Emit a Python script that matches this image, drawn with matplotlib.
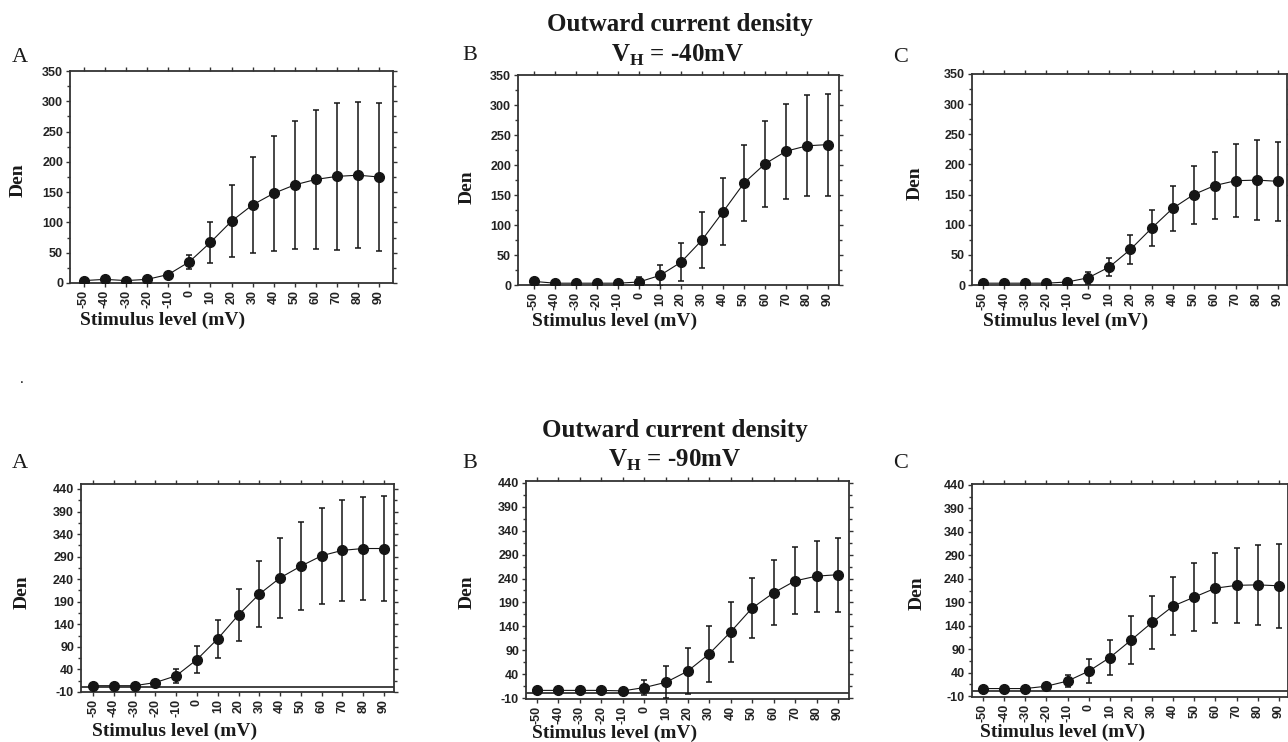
import matplotlib.pyplot as plt
from matplotlib.ticker import FixedLocator

plt.rcParams['font.family'] = ['Liberation Sans', 'DejaVu Sans']
plt.rcParams['axes.unicode_minus'] = False
plt.rcParams['mathtext.fontset'] = 'custom'
plt.rcParams['mathtext.rm'] = 'Liberation Serif:bold'
plt.rcParams['mathtext.bf'] = 'Liberation Serif:bold'

W, H = 1288, 742

# stimulus levels (mV)
stim = [-50, -40, -30, -20, -10, 0, 10, 20, 30, 40, 50, 60, 70, 80, 90]

# V_H = -40 mV  (mean density and error)
den40_a = [4, 6, 4, 6, 14, 35, 67, 102, 129, 148, 162, 171, 176, 178, 175]
err40_a = [0, 0, 0, 0, 3, 12, 34, 59, 79, 95, 106, 115, 121, 121, 122]
den40_b = [6, 3, 3, 3, 3, 5, 16, 38, 75, 122, 170, 202, 223, 232, 234]
err40_b = [0, 0, 0, 0, 0, 9, 17, 32, 46, 56, 64, 72, 79, 84, 85]
den40_c = [3, 3, 3, 3, 5, 12, 30, 59, 94, 127, 150, 165, 173, 174, 172]
err40_c = [0, 0, 0, 0, 0, 10, 15, 24, 30, 37, 48, 55, 61, 66, 66]

# V_H = -90 mV
den90_a = [4, 4, 4, 11, 26, 62, 108, 161, 207, 243, 269, 292, 304, 308, 308]
err90_a = [0, 0, 0, 0, 15, 29, 42, 58, 73, 89, 98, 106, 112, 115, 116]
den90_b = [6, 6, 6, 6, 5, 12, 23, 46, 82, 128, 178, 210, 235, 245, 248]
err90_b = [0, 0, 0, 0, 0, 16, 33, 48, 58, 63, 63, 68, 70, 74, 77]
den90_c = [6, 6, 6, 11, 22, 43, 72, 109, 147, 182, 201, 220, 226, 227, 225]
err90_c = [0, 0, 0, 0, 12, 25, 38, 51, 56, 62, 72, 74, 80, 86, 89]

ticks40 = list(range(0, 351, 50))
ticks90 = list(range(-10, 441, 50))

fig = plt.figure(figsize=(W / 100, H / 100), dpi=100)


def fx(x):
    return x / W


def fy(y):
    return 1 - y / H


def panel(box, xlim, ylim, yticks, mean, err, zero_line=False):
    l, t, r, b = box
    ax = fig.add_axes([fx(l), fy(b), (r - l) / W, (b - t) / H])
    if zero_line:
        ax.axhline(0, color='#222222', lw=1.2, zorder=1)
    ax.errorbar(stim, mean, yerr=err, fmt='-o', color='#151515', ms=7,
                lw=0.8, elinewidth=1.1, capsize=2.5, capthick=1.1, zorder=3)
    ax.set_xlim(xlim)
    ax.set_ylim(ylim)
    ax.set_xticks(stim)
    ax.set_xticklabels([str(s) for s in stim], rotation=90)
    ax.yaxis.set_major_locator(FixedLocator(yticks))
    ax.yaxis.set_minor_locator(FixedLocator([v + 25 for v in yticks[:-1]]))
    ax.tick_params(which='both', direction='out', top=True, right=True,
                   labeltop=False, labelright=False, width=1, color='#333333')
    ax.tick_params(which='major', length=3, pad=2, labelsize=9)
    ax.tick_params(which='minor', length=2)
    for lab in ax.get_xticklabels() + ax.get_yticklabels():
        lab.set_fontweight('bold')
        lab.set_color('#222222')
    for sp in ax.spines.values():
        sp.set_linewidth(1.3)
        sp.set_color('#333333')
    return ax


def serif(x, y, s, size, weight='bold', ha='center', rot=0):
    fig.text(fx(x), fy(y), s, fontsize=size, fontweight=weight, ha=ha,
             va='center', rotation=rot, family='Liberation Serif', color='#1a1a1a')


# top row: V_H = -40 mV
panel((70, 71, 393, 283), (-56.6, 96.6), (0, 350), ticks40, den40_a, err40_a)
panel((518, 75, 839, 285), (-57.6, 95.2), (0, 350), ticks40, den40_b, err40_b)
panel((972, 74, 1287, 285), (-55.2, 94.3), (0, 350), ticks40, den40_c, err40_c)

# bottom row: V_H = -90 mV
panel((81, 484, 394, 692), (-55.8, 94.8), (-10, 451), ticks90, den90_a, err90_a, True)
panel((526, 481, 849, 699), (-55.1, 95.1), (-12, 444), ticks90, den90_b, err90_b, True)
panel((972, 484, 1288, 697), (-55.2, 94.3), (-12, 442), ticks90, den90_c, err90_c, True)

# titles
serif(680, 25, 'Outward current density', 18)
serif(678, 55, r'V$_{\mathrm{H}}$ = -40mV', 18)
serif(675, 430, 'Outward current density', 18)
serif(675, 460, r'V$_{\mathrm{H}}$ = -90mV', 18)

# panel letters
for x, y, s in [(20, 57, 'A'), (470, 55, 'B'), (901, 57, 'C'),
                (20, 463, 'A'), (470, 463, 'B'), (901, 463, 'C')]:
    serif(x, y, s, 16, weight='normal')

# y labels
for x, y in [(18, 180), (467, 187), (915, 183), (22, 592), (467, 592), (917, 593)]:
    serif(x, y, 'Den', 14, rot=90)

# x labels
for x, y in [(80, 320), (532, 321), (983, 321), (92, 731), (532, 733), (980, 732)]:
    serif(x, y, 'Stimulus level (mV)', 14, ha='left')

fig.text(fx(22), fy(379), '.', fontsize=10, ha='center', va='center')

fig.savefig('out.png', dpi=100)
